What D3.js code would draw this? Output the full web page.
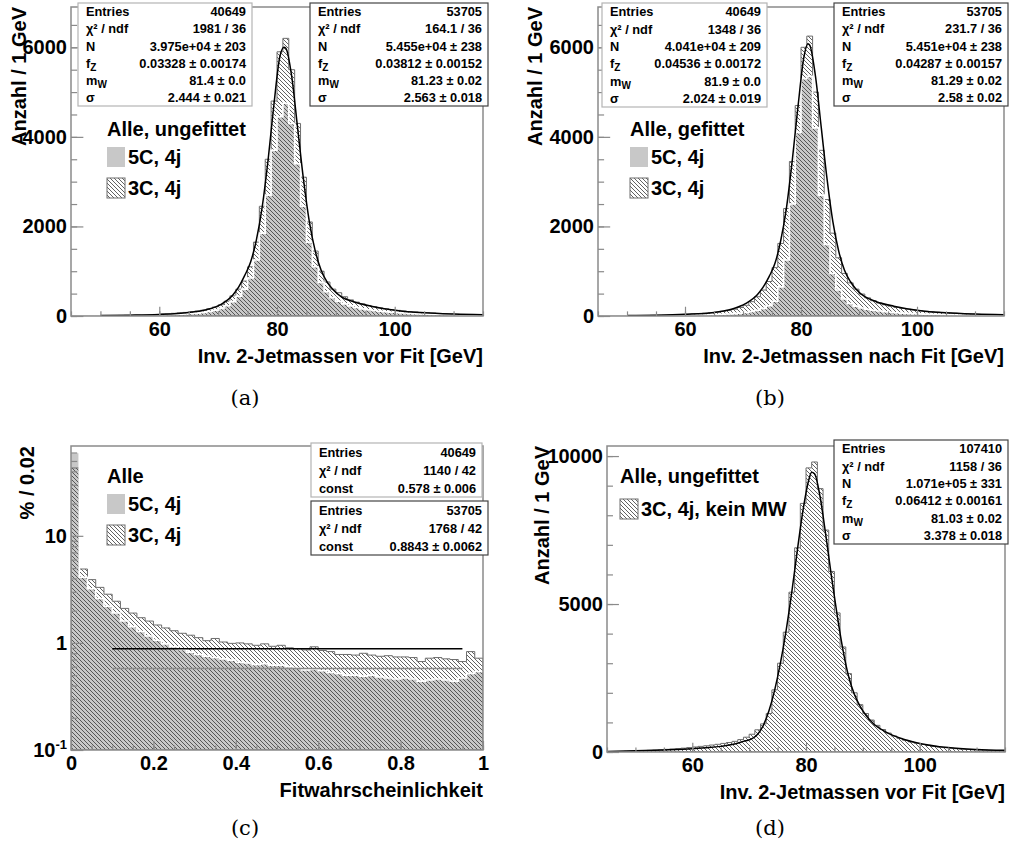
<!DOCTYPE html>
<html>
<head>
<meta charset="utf-8">
<script src="https://cdn.jsdelivr.net/npm/d3@7"></script>
<style>
  body { margin: 0; background: #fff; }
</style>
</head>
<body>
<div id="chart"></div>
<script>
// ---- data ----
// mass histograms: 70 bins of 1 GeV, first bin starts at 45 GeV
const massEdges = d3.range(45, 116, 1);
const histA5C = [0,0,0,0,0, 3,4,5,6,8, 10,12,14,17,20, 25,28,32,38,45, 55,65,80,100,130,
  170,230,320,440,600, 850,1250,1850,2700,3700, 4450,4750,4300,3400,2450, 1650,1100,750,540,410,
  330,270,225,190,160, 140,122,107,95,84, 74,66,58,52,46, 41,36,32,28,25, 22,19,16,13,0];
const histA3C = [0,0,0,0,0, 5,8,10,12,15, 18,20,25,30,35, 45,50,60,70,80, 95,110,130,160,200,
  250,330,450,600,780, 1100,1650,2450,3500,4800, 5900,6200,5500,4300,3100, 2100,1450,1000,760,600,
  520,430,360,310,270, 235,205,180,160,142, 126,112,100,90,80, 71,63,56,50,44, 39,34,30,25,0];
const histB5C = [0,0,0,0,0, 2,3,4,5,6, 7,8,10,12,14, 16,18,21,24,28, 32,38,45,54,65,
  80,100,130,170,230, 330,650,1250,2500,4100, 5300,5350,4200,2700,1600, 950,580,380,280,220,
  180,150,128,110,96, 84,74,65,58,52, 47,42,37,33,29, 26,23,20,18,16, 14,12,10,8,0];
const histB3C = [0,0,0,0,0, 5,7,9,11,14, 17,20,24,28,33, 40,46,54,63,74, 88,104,125,152,190,
  240,320,430,580,770, 1080,1620,2400,3450,4700, 6000,6250,5000,3700,2600, 1850,1300,950,740,600,
  490,405,340,290,250, 218,190,168,150,133, 118,105,94,84,75, 67,60,53,47,42, 37,33,28,22,0];
const histD3C = [5,10,15,22,30, 38,46,55,65,78, 90,102,115,130,150, 170,190,210,235,260,
  290,320,360,420,500, 600,750,950,1300,2100, 3000,4050,5400,6900,8400, 9600,9800,8900,7500,6100,
  4700,3550,2650,2000,1600, 1300,1080,900,760,640, 540,460,395,340,295, 255,222,193,168,147,
  128,112,98,86,76, 67,59,52,46,40];

// fit curves (GeV, entries)
const fitX = [50, 55, 60, 65, 68, 70.5, 72.5, 73.5, 74.5, 75.5, 76.5, 77.5, 78.5, 79.5, 80.5, 81.2,
  81.5, 82.5, 83.5, 84.5, 85.5, 86.5, 87.5, 88.5, 89.5, 91, 93, 96, 100, 105, 110, 115];
const fitA3C = [10, 18, 35, 80, 140, 260, 470, 650, 900, 1200, 1700, 2450, 3500, 4750, 5800, 6000,
  5980, 5350, 4200, 3050, 2100, 1450, 1020, 760, 590, 420, 320, 220, 130, 70, 42, 28];
const fitB3C = [10, 18, 38, 80, 150, 280, 480, 650, 880, 1170, 1680, 2420, 3480, 4700, 5780, 6080,
  6050, 5350, 4200, 3050, 2100, 1450, 1020, 770, 600, 430, 320, 220, 130, 70, 42, 28];
const fitDX = [45, 50, 55, 60, 63, 65, 67, 69, 70.5, 71.5, 72.5, 73.5, 74.5, 75.5, 76.5, 77.5, 78.5,
  79.5, 80.5, 81.0, 81.5, 82.5, 83.5, 84.5, 85.5, 86.5, 87.5, 88.5, 89.5, 90.5, 92, 94, 97, 100, 105, 110, 115];
const fitD3C = [20, 40, 70, 110, 150, 190, 250, 360, 450, 600, 900, 1400, 2100, 3000, 4100, 5400, 6850,
  8200, 9200, 9450, 9400, 8600, 7300, 5900, 4600, 3450, 2550, 1950, 1550, 1250, 930, 680, 440, 290, 150, 85, 55];

// fit probability histograms: 50 bins of 0.02, in %
const probEdges = d3.range(51).map(i => i / 50);
const probC5C = [60, 4.1, 3.2, 2.6, 2.2, 1.9, 1.6, 1.42, 1.28, 1.16, 1.06, 0.98, 0.92, 0.87, 0.82, 0.78,
  0.75, 0.73, 0.71, 0.69, 0.66, 0.65, 0.63, 0.64, 0.62, 0.62, 0.6, 0.58, 0.56, 0.57, 0.55, 0.53, 0.52,
  0.5, 0.5, 0.49, 0.5, 0.48, 0.47, 0.46, 0.47, 0.46, 0.44, 0.45, 0.46, 0.45, 0.44, 0.47, 0.52, 0.54];
const probC3C = [43, 4.9, 3.9, 3.3, 2.85, 2.45, 2.1, 1.9, 1.72, 1.6, 1.47, 1.38, 1.3, 1.23, 1.18, 1.12,
  1.05, 1.1, 1.02, 0.99, 1.0, 0.98, 0.95, 0.98, 0.93, 0.95, 0.9, 0.88, 0.86, 0.92, 0.85, 0.83, 0.78,
  0.78, 0.77, 0.8, 0.77, 0.75, 0.76, 0.74, 0.74, 0.73, 0.67, 0.72, 0.73, 0.71, 0.7, 0.67, 0.83, 0.72];
const constRange = [0.1, 0.95];
const const5C = 0.578;
const const3C = 0.8843;

// tick labels
const massTicks = [60, 80, 100];
const probTicks = [0, 0.2, 0.4, 0.6, 0.8, 1];
const logTicks = [0.1, 1, 10];

// statistics boxes
const statsA5C = [["Entries", "40649"], ["χ² / ndf", "1981 / 36"], ["N", "3.975e+04 ± 203"],
  ["f_Z", "0.03328 ± 0.00174"], ["m_W", "81.4 ± 0.0"], ["σ", "2.444 ± 0.021"]];
const statsA3C = [["Entries", "53705"], ["χ² / ndf", "164.1 / 36"], ["N", "5.455e+04 ± 238"],
  ["f_Z", "0.03812 ± 0.00152"], ["m_W", "81.23 ± 0.02"], ["σ", "2.563 ± 0.018"]];
const statsB5C = [["Entries", "40649"], ["χ² / ndf", "1348 / 36"], ["N", "4.041e+04 ± 209"],
  ["f_Z", "0.04536 ± 0.00172"], ["m_W", "81.9 ± 0.0"], ["σ", "2.024 ± 0.019"]];
const statsB3C = [["Entries", "53705"], ["χ² / ndf", "231.7 / 36"], ["N", "5.451e+04 ± 238"],
  ["f_Z", "0.04287 ± 0.00157"], ["m_W", "81.29 ± 0.02"], ["σ", "2.58 ± 0.02"]];
const statsC5C = [["Entries", "40649"], ["χ² / ndf", "1140 / 42"], ["const", "0.578 ± 0.006"]];
const statsC3C = [["Entries", "53705"], ["χ² / ndf", "1768 / 42"], ["const", "0.8843 ± 0.0062"]];
const statsD3C = [["Entries", "107410"], ["χ² / ndf", "1158 / 36"], ["N", "1.071e+05 ± 331"],
  ["f_Z", "0.06412 ± 0.00161"], ["m_W", "81.03 ± 0.02"], ["σ", "3.378 ± 0.018"]];

// ---- drawing ----
const gray = '#c8c8c8';
const font = '"Liberation Sans", Arial, sans-serif';
const svg = d3.select('#chart').append('svg')
  .attr('width', 1010).attr('height', 855)
  .style('font-family', font);

svg.append('defs').append('pattern')
  .attr('id', 'hatch').attr('patternUnits', 'userSpaceOnUse')
  .attr('width', 4).attr('height', 4)
  .append('path')
  .attr('d', 'M-1,-1L5,5M3,-1L5,1M-1,3L1,5')
  .attr('stroke', '#3a3a3a').attr('stroke-width', 0.8);

function binPoints(edges, vals) {
  const pts = vals.map((v, i) => [edges[i], v]);
  pts.push([edges[vals.length], vals[vals.length - 1]]);
  return pts;
}

function statBox(g, b, rows, color) {
  g.append('rect')
    .attr('x', b[0]).attr('y', b[1]).attr('width', b[2] - b[0]).attr('height', b[3] - b[1])
    .attr('fill', '#fff').attr('stroke', color).attr('stroke-width', 1.2);
  const rh = (b[3] - b[1]) / rows.length;
  rows.forEach((r, i) => {
    const yy = b[1] + rh * (i + 0.5) + 4.6;
    const t = g.append('text').attr('x', b[0] + 8).attr('y', yy)
      .attr('font-size', 12.8).attr('font-weight', 'bold');
    const parts = r[0].split('_');
    t.append('tspan').text(parts[0]);
    if (parts[1]) t.append('tspan').attr('dy', 3).attr('font-size', 10).text(parts[1]);
    g.append('text').attr('x', b[2] - 6).attr('y', yy).attr('text-anchor', 'end')
      .attr('font-size', 12.8).attr('font-weight', 'bold').text(r[1]);
  });
}

function panel(p, idx) {
  const g = svg.append('g');
  const x = d3.scaleLinear().domain(p.xDomain).range([p.l, p.r]);
  const y = (p.log ? d3.scaleLog() : d3.scaleLinear()).domain(p.yDomain).range([p.b, p.t]);

  g.append('clipPath').attr('id', 'clip' + idx).append('rect')
    .attr('x', p.l).attr('y', p.t).attr('width', p.r - p.l).attr('height', p.b - p.t);
  const plot = g.append('g').attr('clip-path', `url(#clip${idx})`);

  const area = d3.area().curve(d3.curveStepAfter)
    .x(d => x(d[0])).y0(p.b).y1(d => y(Math.max(d[1], p.yDomain[0])));
  const stepLine = d3.line().curve(d3.curveStepAfter)
    .x(d => x(d[0])).y(d => y(Math.max(d[1], p.yDomain[0])));
  const fitLine = d3.line().curve(d3.curveMonotoneX).x(d => x(d[0])).y(d => y(d[1]));

  if (p.gray) {
    plot.append('path').attr('d', area(binPoints(p.edges, p.gray))).attr('fill', gray);
  }
  plot.append('path').attr('d', area(binPoints(p.edges, p.hatched)))
    .attr('fill', 'url(#hatch)').attr('stroke', '#6e6e6e').attr('stroke-width', 1);
  if (p.gray) {
    plot.append('path').attr('d', stepLine(binPoints(p.edges, p.gray)))
      .attr('fill', 'none').attr('stroke', '#fff').attr('stroke-width', 1.6);
  }

  if (p.fitBlack) {
    plot.append('path').attr('d', fitLine(p.fitX.map((v, i) => [v, p.fitBlack[i]])))
      .attr('fill', 'none').attr('stroke', '#000').attr('stroke-width', 1.5);
  }
  if (p.consts) {
    p.consts.forEach(c => {
      plot.append('line')
        .attr('x1', x(constRange[0])).attr('x2', x(constRange[1]))
        .attr('y1', y(c.v)).attr('y2', y(c.v))
        .attr('stroke', c.color).attr('stroke-width', 1.5);
    });
  }

  // frame
  g.append('rect').attr('x', p.l).attr('y', p.t).attr('width', p.r - p.l).attr('height', p.b - p.t)
    .attr('fill', 'none').attr('stroke', '#8a8a8a').attr('stroke-width', 1.5);

  // axes, ticks pointing into the frame
  const xMajor = 0.03 * (p.b - p.t), yMajor = 0.03 * (p.r - p.l);
  const xMin = g.append('g').attr('transform', `translate(0,${p.b})`)
    .call(d3.axisBottom(x).tickValues(p.xMinor).tickSizeInner(-xMajor / 2).tickSizeOuter(0).tickFormat(''));
  const xAx = g.append('g').attr('transform', `translate(0,${p.b})`)
    .call(d3.axisBottom(x).tickValues(p.xTicks).tickSizeInner(-xMajor).tickSizeOuter(0)
      .tickPadding(6).tickFormat(p.xFormat));
  const yMin = g.append('g').attr('transform', `translate(${p.l},0)`)
    .call(d3.axisLeft(y).tickValues(p.yMinor).tickSizeInner(-yMajor / 2).tickSizeOuter(0).tickFormat(''));
  const yAx = g.append('g').attr('transform', `translate(${p.l},0)`)
    .call(d3.axisLeft(y).tickValues(p.yTicks).tickSizeInner(-yMajor).tickSizeOuter(0)
      .tickPadding(4).tickFormat(p.yFormat || d3.format('d')));
  [xMin, xAx, yMin, yAx].forEach(a => {
    a.select('.domain').remove();
    a.selectAll('line').attr('stroke', '#8a8a8a').attr('stroke-width', 1.2);
    a.selectAll('text').attr('font-size', 20).attr('font-weight', 'bold')
      .attr('fill', '#000').attr('font-family', font);
  });
  if (p.log) {
    yAx.selectAll('text').each(function(d) {
      if (d < 1) {
        const t = d3.select(this).text('10');
        t.append('tspan').attr('dy', -8).attr('font-size', 13).text('-1');
      }
    });
  }

  // titles
  g.append('text').attr('x', p.r).attr('y', p.xTitleY).attr('text-anchor', 'end')
    .attr('font-size', 20).attr('font-weight', 'bold').text(p.xTitle);
  g.append('text').attr('transform', `translate(${p.yTitleX},${p.t}) rotate(-90)`)
    .attr('text-anchor', 'end').attr('font-size', 20).attr('font-weight', 'bold').text(p.yTitle);
  g.append('text').attr('x', p.sub[0]).attr('y', p.sub[1]).attr('text-anchor', 'middle')
    .attr('font-family', '"DejaVu Serif", "Liberation Serif", serif').attr('font-size', 21)
    .text(p.subLabel);

  // legend
  const L = p.legend;
  g.append('text').attr('x', L.x).attr('y', L.y).attr('font-size', 20).attr('font-weight', 'bold')
    .text(L.title);
  L.items.forEach((it, i) => {
    const yy = L.y1 + L.dy * i;
    g.append('rect').attr('x', L.x).attr('y', yy - 17).attr('width', 18).attr('height', 20)
      .attr('fill', it.hatch ? 'url(#hatch)' : gray)
      .attr('stroke', it.hatch ? '#6e6e6e' : 'none');
    g.append('text').attr('x', L.x + 21).attr('y', yy).attr('font-size', 20).attr('font-weight', 'bold')
      .text(it.label);
  });

  p.stats.forEach(s => statBox(g, s.box, s.rows, s.color));
}

const massMinor = d3.range(45, 116, 5);
const legend5C3C = [{ label: '5C, 4j', hatch: false }, { label: '3C, 4j', hatch: true }];

const panels = [
  { l: 71, r: 483, t: 7, b: 316, xDomain: [45, 115], yDomain: [0, 6900],
    edges: massEdges, gray: histA5C, hatched: histA3C, fitX: fitX, fitBlack: fitA3C,
    xTicks: massTicks, xMinor: massMinor, yTicks: [0, 2000, 4000, 6000], yMinor: d3.range(0, 6901, 500),
    xFormat: d3.format('d'), xTitle: 'Inv. 2-Jetmassen vor Fit [GeV]', xTitleY: 363,
    yTitle: 'Anzahl / 1 GeV', yTitleX: 26, sub: [245, 405], subLabel: '(a)',
    legend: { x: 107, y: 136, y1: 164, dy: 31, title: 'Alle, ungefittet', items: legend5C3C },
    stats: [{ box: [78, 3, 252, 106], rows: statsA5C, color: '#b4b4b4' },
            { box: [310, 3, 488, 106], rows: statsA3C, color: '#444' }] },
  { l: 598, r: 1004, t: 7, b: 316, xDomain: [45, 115], yDomain: [0, 6900],
    edges: massEdges, gray: histB5C, hatched: histB3C, fitX: fitX, fitBlack: fitB3C,
    xTicks: massTicks, xMinor: massMinor, yTicks: [0, 2000, 4000, 6000], yMinor: d3.range(0, 6901, 500),
    xFormat: d3.format('d'), xTitle: 'Inv. 2-Jetmassen nach Fit [GeV]', xTitleY: 363,
    yTitle: 'Anzahl / 1 GeV', yTitleX: 542, sub: [770, 405], subLabel: '(b)',
    legend: { x: 630, y: 136, y1: 164, dy: 31, title: 'Alle, gefittet', items: legend5C3C },
    stats: [{ box: [602, 3, 767, 107], rows: statsB5C, color: '#b4b4b4' },
            { box: [834, 3, 1008, 106], rows: statsB3C, color: '#444' }] },
  { l: 71, r: 483, t: 446, b: 750, log: true, xDomain: [0, 1], yDomain: [0.1, 69],
    edges: probEdges, gray: probC5C, hatched: probC3C,
    consts: [{ v: const5C, color: '#8a8a8a' }, { v: const3C, color: '#000' }],
    xTicks: probTicks, xMinor: d3.range(21).map(i => i / 20),
    yTicks: logTicks,
    yMinor: [0.2, 0.3, 0.4, 0.5, 0.6, 0.7, 0.8, 0.9, 2, 3, 4, 5, 6, 7, 8, 9, 20, 30, 40, 50, 60],
    xFormat: d => d === 0 || d === 1 ? d3.format('d')(d) : d3.format('.1f')(d),
    yFormat: d => d >= 1 ? d3.format('d')(d) : '10',
    xTitle: 'Fitwahrscheinlichkeit', xTitleY: 797,
    yTitle: '% / 0.02', yTitleX: 34, sub: [245, 835], subLabel: '(c)',
    legend: { x: 107, y: 483, y1: 511, dy: 31, title: 'Alle', items: legend5C3C },
    stats: [{ box: [311, 443, 482, 497], rows: statsC5C, color: '#b4b4b4' },
            { box: [311, 501, 488, 555], rows: statsC3C, color: '#444' }] },
  { l: 607, r: 1005, t: 446, b: 752, xDomain: [45, 115], yDomain: [0, 10340],
    edges: massEdges, hatched: histD3C, fitX: fitDX, fitBlack: fitD3C,
    xTicks: massTicks, xMinor: massMinor, yTicks: [0, 5000, 10000], yMinor: d3.range(0, 10341, 1000),
    xFormat: d3.format('d'), xTitle: 'Inv. 2-Jetmassen vor Fit [GeV]', xTitleY: 799,
    yTitle: 'Anzahl / 1 GeV', yTitleX: 549, sub: [770, 835], subLabel: '(d)',
    legend: { x: 620, y: 483, y1: 516, dy: 31, title: 'Alle, ungefittet',
              items: [{ label: '3C, 4j, kein MW', hatch: true }] },
    stats: [{ box: [834, 440, 1008, 544], rows: statsD3C, color: '#444' }] }
];

panels.forEach((p, i) => panel(p, i));
</script>
</body>
</html>
